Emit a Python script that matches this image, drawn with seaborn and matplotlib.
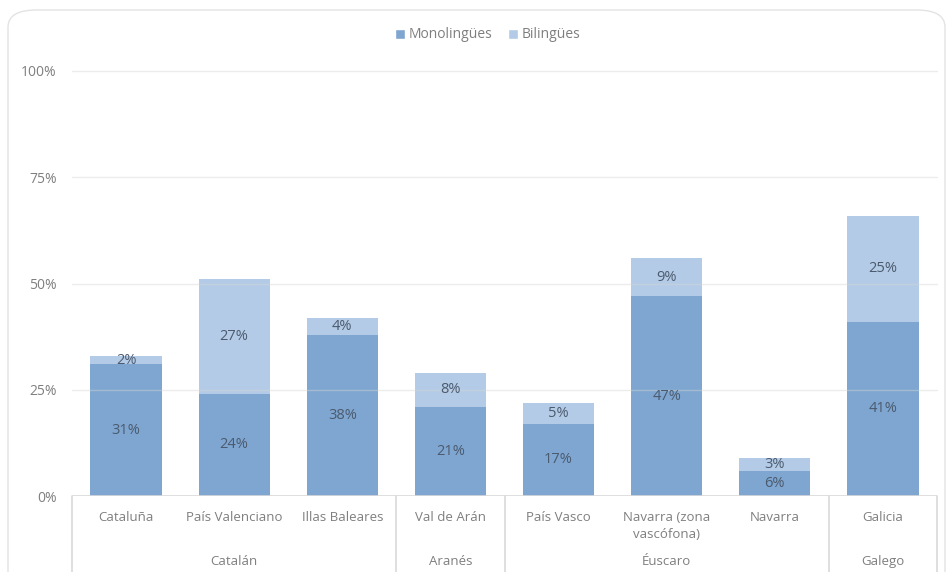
import matplotlib
matplotlib.use("Agg")
import matplotlib.pyplot as plt
import matplotlib.transforms as mtransforms
from matplotlib.patches import FancyBboxPatch, Patch
import seaborn as sns
import pandas as pd

categories = ["Cataluña", "País Valenciano", "Illas Baleares", "Val de Arán",
              "País Vasco", "Navarra (zona\nvascófona)", "Navarra", "Galicia"]
monolingues = [31, 24, 38, 21, 17, 47, 6, 41]
bilingues = [2, 27, 4, 8, 5, 9, 3, 25]
groups = ["Catalán", "Aranés", "Éuscaro", "Galego"]
group_spans = [(0, 2), (3, 3), (4, 6), (7, 7)]
yticks = [0, 25, 50, 75, 100]
ytick_labels = ["0%", "25%", "50%", "75%", "100%"]

C_MONO = "#7ea6d0"
C_BI = "#b3cbe6"
TXT = "#7f7f7f"
LBL = "#4b5a6e"
LINE = "#d9d9d9"

sns.set_style("white")
plt.rcParams["font.family"] = ["Open Sans", "DejaVu Sans"]

df = pd.DataFrame({"cat": categories,
                   "mono": monolingues,
                   "bi": bilingues})
df["total"] = df["mono"] + df["bi"]

fig = plt.figure(figsize=(9.5, 5.72), dpi=100)
W, H = 950, 572
ax = fig.add_axes([72 / W, 76 / H, (937 - 72) / W, (501 - 76) / H])

# chart border (bottom runs off the image)
border = FancyBboxPatch((8 / W, -40 / H), (945 - 8) / W, (562 + 40) / H,
                        boxstyle="round,pad=0,rounding_size=0.03",
                        transform=fig.transFigure, fill=False,
                        edgecolor="#e3e3e3", linewidth=1.0, clip_on=False)
fig.patches.append(border)

sns.barplot(data=df, x="cat", y="total", color=C_BI, width=0.66,
            saturation=1, ax=ax, zorder=1)
sns.barplot(data=df, x="cat", y="mono", color=C_MONO, width=0.66,
            saturation=1, ax=ax, zorder=1)
for p in ax.patches:
    p.set_linewidth(0)

ax.set_xlim(-0.5, len(categories) - 0.5)
ax.set_ylim(0, 100)
ax.set_yticks(yticks)
ax.set_yticklabels(ytick_labels)
ax.set_xlabel("")
ax.set_ylabel("")
for s in ax.spines.values():
    s.set_visible(False)
for y in yticks[1:]:
    ax.axhline(y, color="#d6d6d6", linewidth=1.0, zorder=2, alpha=0.45, clip_on=False)
ax.axhline(0, color=LINE, linewidth=1.2, zorder=3)

ax.tick_params(axis="y", length=0, pad=11, labelsize=10, labelcolor=TXT)
ax.tick_params(axis="x", length=0, pad=11, labelsize=9.5, labelcolor=TXT)
ax.set_xticks(range(len(categories)))
ax.set_xticklabels(categories, linespacing=1.4)

# value labels
for i, (m, b) in enumerate(zip(monolingues, bilingues)):
    ax.text(i, m / 2, f"{m}%", ha="center", va="center", fontsize=10.5,
            color=LBL, zorder=4)
    ax.text(i, m + b / 2, f"{b}%", ha="center", va="center", fontsize=10.5,
            color=LBL, zorder=4)

# multi-level category separators and group labels
trans = mtransforms.blended_transform_factory(ax.transData, ax.transAxes)
seps = [-0.5, 2.5, 3.5, 6.5, 7.5]
for x in seps:
    ax.plot([x, x], [0, -0.19], transform=trans, color=LINE, linewidth=1.2,
            clip_on=False, zorder=3)
for g, (a, b) in zip(groups, group_spans):
    ax.text((a + b) / 2, -0.153, g, transform=trans, ha="center", va="center",
            fontsize=9.5, color=TXT)

# legend
handles = [Patch(facecolor=C_MONO, label="Monolingües"),
           Patch(facecolor=C_BI, label="Bilingües")]
fig.legend(handles=handles, loc="center", bbox_to_anchor=(488 / W, 1 - 35 / H),
           ncol=2, frameon=False, fontsize=10, labelcolor=TXT,
           handlelength=0.7, handleheight=0.7, handletextpad=0.3,
           columnspacing=1.1)

fig.savefig("out.png", dpi=100)
